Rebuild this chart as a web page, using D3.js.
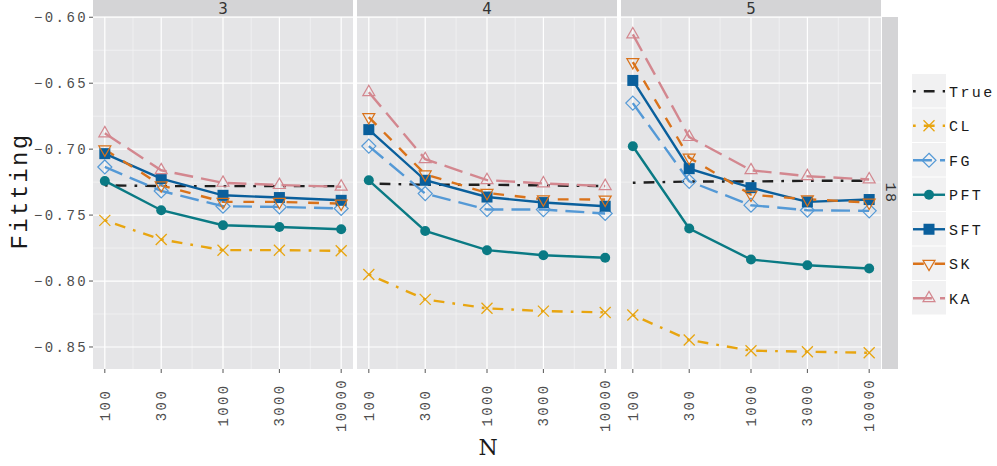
<!DOCTYPE html>
<html>
<head>
<meta charset="utf-8">
<script src="https://cdn.jsdelivr.net/npm/d3@7"></script>
<style>
  body { margin: 0; background: #fff; }
  .mono { font-family: "Liberation Mono", "DejaVu Sans Mono", monospace; }
</style>
</head>
<body>
<script>
// small multiples: fitting vs N, one panel per K, all at 18

// facet levels and x categories
var kLevels = ["3", "4", "5"];
var rowLevel = "18";
var nLevels = [100, 300, 1000, 3000, 10000];
var methods = ["True", "CL", "FG", "PFT", "SFT", "SK", "KA"];
var yTicks = [-0.60, -0.65, -0.70, -0.75, -0.80, -0.85];

// fitting values, one row per panel (K = 3, 4, 5), one value per N
var trueFit = [[-0.7275, -0.728, -0.728, -0.728, -0.728],
               [-0.726, -0.727, -0.727, -0.7275, -0.728],
               [-0.7255, -0.7245, -0.7245, -0.724, -0.724]];
var clFit   = [[-0.754, -0.7685, -0.7766, -0.7766, -0.7771],
               [-0.795, -0.8139, -0.8207, -0.8228, -0.8238],
               [-0.8258, -0.8447, -0.8528, -0.8536, -0.8544]];
var fgFit   = [[-0.7135, -0.7317, -0.7433, -0.7438, -0.745],
               [-0.6977, -0.7337, -0.7458, -0.7458, -0.7488],
               [-0.6651, -0.7244, -0.7425, -0.7463, -0.7468]];
var pftFit  = [[-0.7241, -0.7463, -0.7577, -0.759, -0.7607],
               [-0.7236, -0.762, -0.7766, -0.7804, -0.7824],
               [-0.6978, -0.7602, -0.7837, -0.788, -0.7905]];
var sftFit  = [[-0.7034, -0.7223, -0.735, -0.7367, -0.7388],
               [-0.6852, -0.7236, -0.7363, -0.7405, -0.7433],
               [-0.6479, -0.7148, -0.7292, -0.74, -0.7382]];
var skFit   = [[-0.7002, -0.7274, -0.740, -0.740, -0.7413],
               [-0.6757, -0.7191, -0.7332, -0.738, -0.7382],
               [-0.634, -0.7064, -0.7345, -0.738, -0.7405]];
var kaFit   = [[-0.688, -0.716, -0.7255, -0.7272, -0.7285],
               [-0.6568, -0.7076, -0.7235, -0.726, -0.728],
               [-0.613, -0.6908, -0.716, -0.7205, -0.723]];

var fitByMethod = {True: trueFit, CL: clFit, FG: fgFit, PFT: pftFit, SFT: sftFit, SK: skFit, KA: kaFit};

// look of each series
var styles = {
  True: {color: "#1f1f1f", dash: [1, 3, 4, 3], shape: null},
  CL:   {color: "#E8A510", dash: [1, 3, 4, 3], shape: "x"},
  FG:   {color: "#5499D6", dash: [7, 3],       shape: "diamond"},
  PFT:  {color: "#0A7A84", dash: null,         shape: "circle"},
  SFT:  {color: "#0A5F9C", dash: null,         shape: "square"},
  SK:   {color: "#D9721A", dash: [4, 4],       shape: "down"},
  KA:   {color: "#D3878F", dash: [7, 3],       shape: "up"}
};

var width = 997, height = 466;
var panelW = 260, panelGap = 4, panelLeft = 93;
var panelTop = 17, panelBottom = 369;
var lineW = 2.4, dashScale = 2.7;

var svg = d3.select("body").append("svg")
    .attr("width", width)
    .attr("height", height);

// log x scale, padded by 5% of the 2 decades each side
var x = d3.scaleLog()
    .domain([Math.pow(10, 1.9), Math.pow(10, 4.1)])
    .range([0, panelW]);

var y = d3.scaleLinear()
    .domain([-0.8667, -0.5998])
    .range([panelBottom, panelTop]);

// minor breaks sit halfway between the majors (in transformed space)
var xMinor = [];
for (var i = 0; i < nLevels.length - 1; i++) {
  xMinor.push(Math.sqrt(nLevels[i] * nLevels[i + 1]));
}
var yMinor = [];
for (var j = 0; j < yTicks.length - 1; j++) {
  yMinor.push((yTicks[j] + yTicks[j + 1]) / 2);
}

function dashArray(d) {
  if (!d) return null;
  return d.map(function(v){ return v * dashScale; }).join(",");
}

// ggplot-like point shapes
function marker(g, shape, color) {
  if (shape == "circle") {
    g.append("circle").attr("r", 5).attr("fill", color);
  } else if (shape == "square") {
    g.append("rect").attr("x", -5.5).attr("y", -5.5).attr("width", 11).attr("height", 11).attr("fill", color);
  } else if (shape == "diamond") {
    g.append("path").attr("d", "M0,-7L7,0L0,7L-7,0Z")
      .attr("fill", "none").attr("stroke", color).attr("stroke-width", 1.2);
  } else if (shape == "up" || shape == "down") {
    var u = 4.45, s = shape == "up" ? 1 : -1;
    var p = "M0," + (-1.555 * u * s) + "L" + (1.347 * u) + "," + (0.778 * u * s) +
            "L" + (-1.347 * u) + "," + (0.778 * u * s) + "Z";
    g.append("path").attr("d", p)
      .attr("fill", "none").attr("stroke", color).attr("stroke-width", 1.2);
  } else if (shape == "x") {
    g.append("path").attr("d", "M-5.5,-5.5L5.5,5.5M-5.5,5.5L5.5,-5.5")
      .attr("fill", "none").attr("stroke", color).attr("stroke-width", 1.3);
  }
}

var line = d3.line()
    .x(function(d){ return x(d.n); })
    .y(function(d){ return y(d.v); });

kLevels.forEach(function(k, pi){
  var px = panelLeft + pi * (panelW + panelGap);
  var panel = svg.append("g").attr("transform", "translate(" + px + ",0)");

  // strip on top
  panel.append("rect")
    .attr("x", 0).attr("y", 0).attr("width", panelW).attr("height", panelTop - 0.5)
    .attr("fill", "#D4D4D6");
  panel.append("text")
    .attr("x", panelW / 2).attr("y", 14)
    .attr("text-anchor", "middle")
    .style("font-family", "DejaVu Sans, sans-serif")
    .style("font-size", "15px")
    .attr("fill", "#333")
    .text(k);

  // panel background and grid
  panel.append("rect")
    .attr("x", 0).attr("y", panelTop).attr("width", panelW).attr("height", panelBottom - panelTop)
    .attr("fill", "#E5E5E7");

  panel.selectAll(".ymin").data(yMinor).enter().append("line")
    .attr("x1", 0).attr("x2", panelW)
    .attr("y1", function(d){ return y(d); }).attr("y2", function(d){ return y(d); })
    .attr("stroke", "#F3F3F4").attr("stroke-width", 0.8);
  panel.selectAll(".xmin").data(xMinor).enter().append("line")
    .attr("y1", panelTop).attr("y2", panelBottom)
    .attr("x1", function(d){ return x(d); }).attr("x2", function(d){ return x(d); })
    .attr("stroke", "#F3F3F4").attr("stroke-width", 0.8);
  panel.selectAll(".ymaj").data(yTicks).enter().append("line")
    .attr("x1", 0).attr("x2", panelW)
    .attr("y1", function(d){ return y(d); }).attr("y2", function(d){ return y(d); })
    .attr("stroke", "#fff").attr("stroke-width", 1.2);
  panel.selectAll(".xmaj").data(nLevels).enter().append("line")
    .attr("y1", panelTop).attr("y2", panelBottom)
    .attr("x1", function(d){ return x(d); }).attr("x2", function(d){ return x(d); })
    .attr("stroke", "#fff").attr("stroke-width", 1.2);

  // x axis ticks and rotated labels
  panel.selectAll(".xtick").data(nLevels).enter().append("line")
    .attr("y1", panelBottom).attr("y2", panelBottom + 4)
    .attr("x1", function(d){ return x(d); }).attr("x2", function(d){ return x(d); })
    .attr("stroke", "#555").attr("stroke-width", 1);
  panel.selectAll(".xlab").data(nLevels).enter().append("text")
    .attr("class", "mono")
    .attr("transform", function(d){ return "translate(" + (x(d) + 5) + ",405) rotate(-90)"; })
    .attr("text-anchor", "middle")
    .style("font-size", "14px")
    .style("letter-spacing", "2.4px")
    .attr("fill", "#4D4D4D")
    .text(function(d){ return d; });

  // lines first, then points
  methods.forEach(function(m){
    var pts = nLevels.map(function(n, i){ return {n: n, v: fitByMethod[m][pi][i]}; });
    var st = styles[m];
    panel.append("path")
      .datum(pts)
      .attr("d", line)
      .attr("fill", "none")
      .attr("stroke", st.color)
      .attr("stroke-width", lineW)
      .attr("stroke-dasharray", dashArray(st.dash));
  });
  methods.forEach(function(m){
    var st = styles[m];
    if (!st.shape) return;
    nLevels.forEach(function(n, i){
      var g = panel.append("g")
        .attr("transform", "translate(" + x(n) + "," + y(fitByMethod[m][pi][i]) + ")");
      marker(g, st.shape, st.color);
    });
  });
});

// y axis on the first panel
svg.selectAll(".ytick").data(yTicks).enter().append("line")
  .attr("x1", panelLeft - 4).attr("x2", panelLeft)
  .attr("y1", function(d){ return y(d); }).attr("y2", function(d){ return y(d); })
  .attr("stroke", "#555").attr("stroke-width", 1);
svg.selectAll(".ylab").data(yTicks).enter().append("text")
  .attr("class", "mono")
  .attr("x", panelLeft - 5)
  .attr("y", function(d){ return y(d); })
  .attr("dy", "0.35em")
  .attr("text-anchor", "end")
  .style("font-size", "14px")
  .style("letter-spacing", "2.4px")
  .attr("fill", "#4D4D4D")
  .text(function(d){ return d3.format(".2f")(d).replace("-", "\u2212"); });

// right strip
var stripX = panelLeft + 3 * panelW + 2 * panelGap + 1;
svg.append("rect")
  .attr("x", stripX).attr("y", panelTop).attr("width", 16).attr("height", panelBottom - panelTop)
  .attr("fill", "#D4D4D6");
svg.append("text")
  .attr("class", "mono")
  .attr("transform", "translate(" + (stripX + 3.5) + "," + ((panelTop + panelBottom) / 2) + ") rotate(90)")
  .attr("text-anchor", "middle")
  .style("font-size", "15px")
  .style("letter-spacing", "1.5px")
  .attr("fill", "#333")
  .text(rowLevel);

// axis titles
svg.append("text")
  .attr("class", "mono")
  .attr("transform", "translate(27,191) rotate(-90)")
  .attr("text-anchor", "middle")
  .style("font-size", "24px")
  .style("letter-spacing", "2.3px")
  .attr("fill", "#1a1a1a")
  .text("Fitting");
svg.append("text")
  .attr("x", 488).attr("y", 455)
  .attr("text-anchor", "middle")
  .style("font-family", "DejaVu Serif, serif")
  .style("font-size", "22px")
  .attr("fill", "#1a1a1a")
  .text("N");

// legend
var keyX = 912, keyTop = 74, keyW = 34, keyH = 34.5;
var legend = svg.append("g");
methods.forEach(function(m, i){
  var st = styles[m];
  var ky = keyTop + i * keyH;
  var g = legend.append("g").attr("transform", "translate(" + keyX + "," + ky + ")");
  g.append("rect")
    .attr("x", 0).attr("y", 0).attr("width", keyW).attr("height", keyH - 1)
    .attr("fill", "#F1F1F2");
  g.append("line")
    .attr("x1", 1).attr("x2", keyW - 1)
    .attr("y1", keyH / 2).attr("y2", keyH / 2)
    .attr("stroke", st.color)
    .attr("stroke-width", lineW)
    .attr("stroke-dasharray", dashArray(st.dash));
  if (st.shape) {
    var mg = g.append("g").attr("transform", "translate(" + (keyW / 2) + "," + (keyH / 2) + ")");
    marker(mg, st.shape, st.color);
  }
  g.append("text")
    .attr("class", "mono")
    .attr("x", keyW + 3).attr("y", keyH / 2)
    .attr("dy", "0.35em")
    .style("font-size", "15px")
    .style("letter-spacing", "2.4px")
    .attr("fill", "#1a1a1a")
    .text(m);
});
</script>
</body>
</html>
